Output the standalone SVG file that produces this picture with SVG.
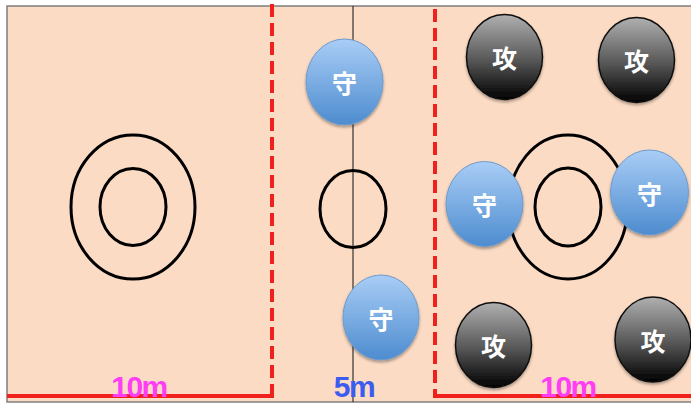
<svg xmlns="http://www.w3.org/2000/svg" width="691" height="406" viewBox="0 0 691 406">
<defs>
<linearGradient id="gb" x1="0" y1="0" x2="0" y2="1"><stop offset="0" stop-color="#A9CDF6"/><stop offset="1" stop-color="#4D8CCF"/></linearGradient>
<linearGradient id="gk" x1="0" y1="0" x2="0" y2="1"><stop offset="0" stop-color="#B0B0B0"/><stop offset="0.55" stop-color="#555"/><stop offset="1" stop-color="#000"/></linearGradient>
<filter id="sh" x="-20%" y="-20%" width="140%" height="150%"><feGaussianBlur in="SourceAlpha" stdDeviation="1.5"/><feOffset dy="2"/><feComponentTransfer><feFuncA type="linear" slope="0.35"/></feComponentTransfer><feMerge><feMergeNode/><feMergeNode in="SourceGraphic"/></feMerge></filter>
</defs>
<style>
.ring{fill:none;stroke:#000;stroke-width:3}
.def{fill:url(#gb);stroke:#6E9BCB;stroke-width:1;filter:url(#sh)}
.att{fill:url(#gk);stroke:#111;stroke-width:1.5;filter:url(#sh)}
.lbl{font-family:"Noto Sans CJK JP","Noto Sans CJK SC",sans-serif;font-size:25px;font-weight:bold;fill:#fff;text-anchor:middle;dominant-baseline:central}
.dash{stroke:#F0201C;stroke-width:4;stroke-dasharray:13 6;fill:none}
.m{font-family:"Liberation Sans",Arial,sans-serif;font-weight:bold;font-size:30px;text-anchor:middle;letter-spacing:-1.5px}
</style>
<rect x="7" y="6" width="690" height="396" fill="#FCDBC4" stroke="#7F7F7F" stroke-width="1.5"/>
<line x1="353" y1="6" x2="353" y2="402" stroke="#333" stroke-width="1.2"/>
<g id="rings">
<ellipse class="ring" cx="133" cy="207" rx="62" ry="72"/>
<ellipse class="ring" cx="133" cy="207" rx="33" ry="38.5"/>
<ellipse class="ring" cx="353" cy="209" rx="33" ry="38.5"/>
<ellipse class="ring" cx="568" cy="207" rx="59.5" ry="72"/>
<ellipse class="ring" cx="568" cy="207" rx="33" ry="39"/>
</g>
<g id="connectors">
<line class="dash" x1="272" y1="4" x2="272" y2="398"/>
<line class="dash" x1="435" y1="9" x2="435" y2="398"/>
<line x1="7" y1="396" x2="274" y2="396" stroke="#F0201C" stroke-width="4"/>
<line x1="433" y1="396" x2="691" y2="396" stroke="#F0201C" stroke-width="4"/>
</g>
<g id="d1"><ellipse class="def" cx="344.5" cy="82" rx="38.5" ry="43"/><text class="lbl" x="344.5" y="82">守</text></g>
<g id="d2"><ellipse class="def" cx="381" cy="317.5" rx="38" ry="42.5"/><text class="lbl" x="381" y="317.5">守</text></g>
<g id="d3"><ellipse class="def" cx="484.5" cy="204" rx="38.5" ry="42.5"/><text class="lbl" x="484.5" y="204">守</text></g>
<g id="d4"><ellipse class="def" cx="649.5" cy="192.5" rx="39" ry="42.5"/><text class="lbl" x="649.5" y="192.5">守</text></g>
<g id="a1"><ellipse class="att" cx="504.5" cy="57" rx="38" ry="42.5"/><text class="lbl" x="504.5" y="57">攻</text></g>
<g id="a2"><ellipse class="att" cx="636.5" cy="60" rx="38" ry="42.5"/><text class="lbl" x="636.5" y="60">攻</text></g>
<g id="a3"><ellipse class="att" cx="493.5" cy="345" rx="38" ry="42.5"/><text class="lbl" x="493.5" y="345">攻</text></g>
<g id="a4"><ellipse class="att" cx="653" cy="339.5" rx="38" ry="42.5"/><text class="lbl" x="653" y="339.5">攻</text></g>
<text class="m" x="139" y="397" fill="#FF3DF5">10m</text>
<text class="m" x="354" y="397" fill="#3B5CF0">5m</text>
<text class="m" x="568" y="397" fill="#FF3DF5">10m</text>
</svg>
